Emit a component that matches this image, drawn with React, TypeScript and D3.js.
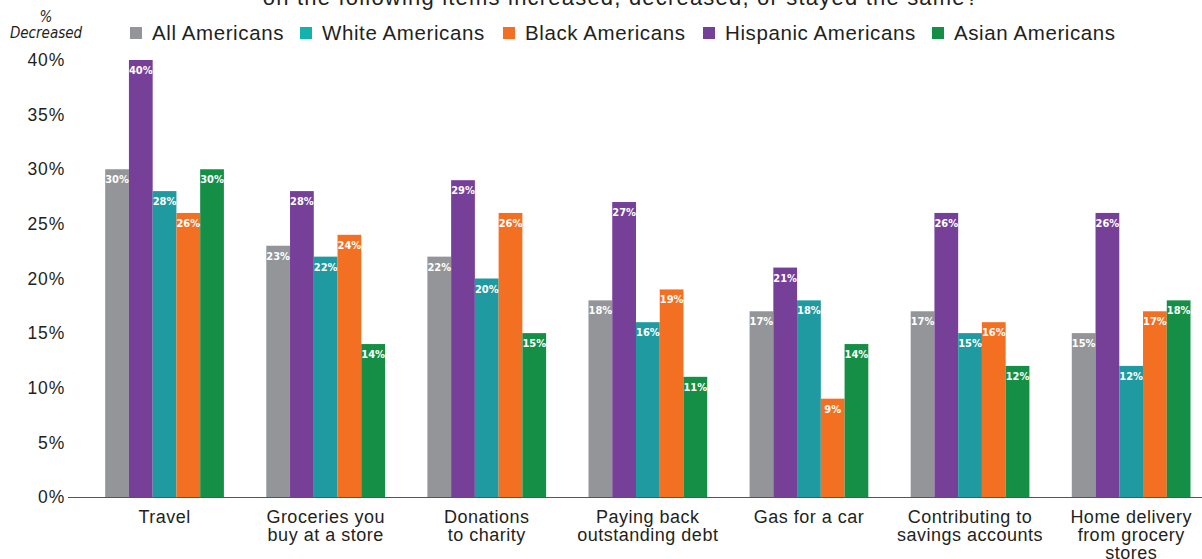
import React, { useEffect, useRef } from "react";
import * as d3 from "d3";

const categories = [
  "Travel",
  "Groceries you|buy at a store",
  "Donations|to charity",
  "Paying back|outstanding debt",
  "Gas for a car",
  "Contributing to|savings accounts",
  "Home delivery|from grocery|stores",
];
const allAmericans = [30, 23, 22, 18, 17, 17, 15];
const hispanicAmericans = [40, 28, 29, 27, 21, 26, 26];
const whiteAmericans = [28, 22, 20, 16, 18, 15, 12];
const blackAmericans = [26, 24, 26, 19, 9, 16, 17];
const asianAmericans = [30, 14, 15, 11, 14, 12, 18];
const yTicks = [0, 5, 10, 15, 20, 25, 30, 35, 40];

const barSeries = [
  { key: "All Americans", values: allAmericans, color: "#939598" },
  { key: "Hispanic Americans", values: hispanicAmericans, color: "#763f98" },
  { key: "White Americans", values: whiteAmericans, color: "#1f9aa0" },
  { key: "Black Americans", values: blackAmericans, color: "#f37022" },
  { key: "Asian Americans", values: asianAmericans, color: "#168f46" },
];
const legendOrder = ["All Americans", "White Americans", "Black Americans", "Hispanic Americans", "Asian Americans"];
const legendColors: Record<string, string> = {
  "All Americans": "#939598",
  "White Americans": "#14b1ad",
  "Black Americans": "#f37022",
  "Hispanic Americans": "#763f98",
  "Asian Americans": "#168f46",
};

const W = 1202;
const H = 559;

export default function App() {
  const ref = useRef<SVGSVGElement>(null);
  useEffect(() => {
    document.body.style.margin = "0";
    const svg = d3.select(ref.current);
    svg.selectAll("*").remove();
    const font = "'Liberation Sans', Arial, sans-serif";
    const narrow = "'Liberation Sans Narrow', 'DejaVu Sans Condensed', sans-serif";

    const y = d3.scaleLinear().domain([0, 40]).range([497, 60]);
    const step = 161.1;
    const x0 = d3
      .scaleBand<number>()
      .domain(categories.map((_, i) => i))
      .range([84, 84 + step * categories.length])
      .paddingInner(0.263)
      .paddingOuter(0.1315);
    const x1 = d3
      .scaleBand<string>()
      .domain(barSeries.map((s) => s.key))
      .range([0, x0.bandwidth()]);

    // title (cropped)
    svg
      .append("text")
      .attr("x", 621)
      .attr("y", 5)
      .attr("text-anchor", "middle")
      .attr("font-family", font)
      .attr("font-size", 22)
      .attr("letter-spacing", 1.2)
      .attr("fill", "#231f20")
      .text("on the following items increased, decreased, or stayed the same?");

    // y label
    const yl = svg
      .append("text")
      .attr("font-family", narrow)
      .attr("font-style", "italic")
      .attr("font-size", 15)
      .attr("fill", "#231f20")
      .attr("text-anchor", "middle");
    yl.append("tspan").attr("x", 46).attr("y", 22).text("%");
    yl.append("tspan").attr("x", 46).attr("y", 38).text("Decreased");

    // legend
    const legendX = [130, 300, 503, 703, 932];
    legendOrder.forEach((k, i) => {
      svg
        .append("rect")
        .attr("x", legendX[i])
        .attr("y", 27)
        .attr("width", 12)
        .attr("height", 12)
        .attr("fill", legendColors[k]);
      svg
        .append("text")
        .attr("x", legendX[i] + 22)
        .attr("y", 40)
        .attr("font-family", font)
        .attr("font-size", 20.5)
        .attr("letter-spacing", 0.6)
        .attr("fill", "#231f20")
        .text(k);
    });

    // y ticks
    svg
      .append("g")
      .selectAll("text")
      .data(yTicks)
      .join("text")
      .attr("x", 65)
      .attr("y", (d) => y(d))
      .attr("dy", "0.35em")
      .attr("text-anchor", "end")
      .attr("font-family", font)
      .attr("font-size", 17.5)
      .attr("letter-spacing", 0.8)
      .attr("fill", "#231f20")
      .text((d) => `${d}%`);

    // bars
    const groups = svg
      .append("g")
      .selectAll("g")
      .data(categories.map((_, i) => i))
      .join("g")
      .attr("transform", (i) => `translate(${x0(i)},0)`);
    groups
      .selectAll("rect")
      .data((i) => barSeries.map((s) => ({ key: s.key, color: s.color, v: s.values[i] })))
      .join("rect")
      .attr("x", (d) => x1(d.key)!)
      .attr("width", x1.bandwidth())
      .attr("y", (d) => y(d.v))
      .attr("height", (d) => y(0) - y(d.v))
      .attr("fill", (d) => d.color);
    groups
      .selectAll("text")
      .data((i) => barSeries.map((s) => ({ key: s.key, v: s.values[i] })))
      .join("text")
      .attr("x", (d) => x1(d.key)! + x1.bandwidth() / 2)
      .attr("y", (d) => y(d.v) + 14)
      .attr("text-anchor", "middle")
      .attr("font-family", narrow)
      .attr("font-weight", "bold")
      .attr("font-size", 11)
      .attr("fill", "#ffffff")
      .text((d) => `${d.v}%`);

    // axis line
    svg
      .append("line")
      .attr("x1", 68)
      .attr("x2", W)
      .attr("y1", y(0) + 0.5)
      .attr("y2", y(0) + 0.5)
      .attr("stroke", "#555")
      .attr("stroke-width", 1.2);

    // category labels
    categories.forEach((c, i) => {
      const t = svg
        .append("text")
        .attr("text-anchor", "middle")
        .attr("font-family", font)
        .attr("font-size", 18)
        .attr("letter-spacing", 0.5)
        .attr("fill", "#231f20");
      c.split("|").forEach((line, j) => {
        t.append("tspan")
          .attr("x", x0(i)! + x0.bandwidth() / 2)
          .attr("y", 523 + j * 18)
          .text(line);
      });
    });
  }, []);
  return <svg ref={ref} width={W} height={H} style={{ display: "block", background: "#fff" }} />;
}
